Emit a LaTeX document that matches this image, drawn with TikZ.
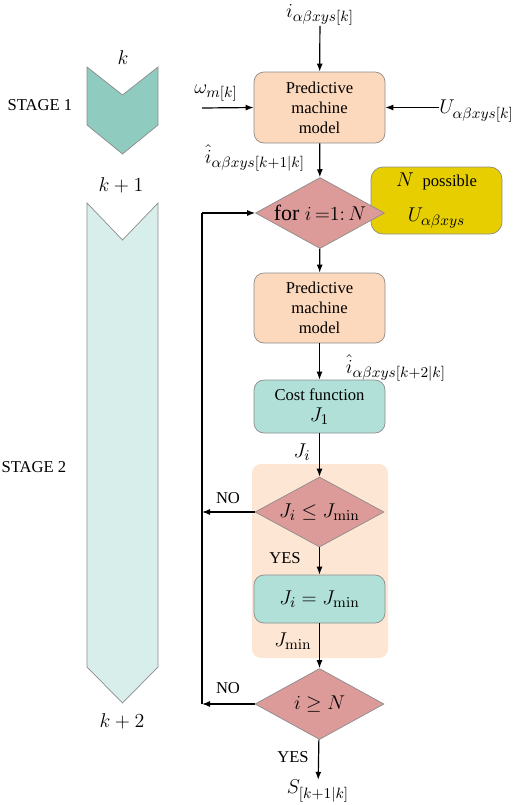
\documentclass[tikz,border=0pt]{standalone}
\usepackage{amsmath}
\usepackage[no-math]{fontspec}
\setmainfont{Liberation Serif}
\usetikzlibrary{shapes.geometric,arrows.meta}
\definecolor{peach}{HTML}{FCD8BC}
\definecolor{peachbg}{HTML}{FDE6D3}
\definecolor{tealbox}{HTML}{B0E0D8}
\definecolor{rose}{HTML}{DC9B98}
\definecolor{goldy}{HTML}{E6CE00}
\definecolor{chevA}{HTML}{8FCBBF}
\definecolor{chevB}{HTML}{D8EEEB}
\definecolor{edgegray}{HTML}{8C8C8C}
\newcommand{\bigmfont}{\fontsize{13.2}{16}\selectfont}
\newcommand{\mth}[1]{{\bigmfont$#1$}}
\tikzset{
  every node/.style={font=\normalsize, inner sep=0pt},
  mlab/.style={font=\bigmfont},
  rbox/.style={draw=edgegray, line width=0.42bp, rounded corners=6bp, minimum width=78.6bp, align=center},
  dmd/.style={diamond, draw=edgegray, line width=0.42bp, fill=rose, aspect=1.8, minimum width=77.4bp, minimum height=42.6bp, font=\bigmfont},
  conn/.style={line width=0.72bp, -{Latex[length=4.8bp,width=3.6bp]}},
  plain/.style={line width=0.72bp},
  chev/.style={draw=edgegray, line width=0.42bp}
}
\begin{document}
\begin{tikzpicture}[x=0.6bp,y=-0.6bp]
\useasboundingbox (0,0) rectangle (526,805);
% left chevrons
\draw[chev, fill=chevA] (87,67) -- (122.5,95) -- (158,67) -- (158,125) -- (122.5,154) -- (87,125) -- cycle;
\draw[chev, fill=chevB] (87,203) -- (122.5,240) -- (158,203) -- (158,667) -- (122.5,703) -- (87,667) -- cycle;
\node[mlab] (tk) at (123,58) {$k$};
\node[mlab] (tk1) at (121,185) {$k+1$};
\node[mlab] (tk2) at (122,721) {$k+2$};
\node (st1) at (40,105) {STAGE 1};
\node (st2) at (34,467) {STAGE 2};
% background
\node[fill=peachbg, rounded corners=5.4bp, minimum width=81.6bp, minimum height=116.4bp] (bg) at (320,561) {};
% top
\node[mlab] (iin) at (320,15) {$i_{\alpha\beta xys[k]}$};
\node[rbox, fill=peach, minimum height=42.6bp] (pm1) at (319.5,107.5) {Predictive\\machine\\model};
\node[mlab] (om) at (216,93) {$\omega_{m[k]}$};
\coordinate (omst) at (202,108);
\node[mlab, anchor=west] (uin) at (439,111) {$U_{\alpha\beta xys[k]}$};
\draw[conn] (iin) -- (pm1);
\draw[conn] (omst) -- (pm1.west);
\draw[conn] (uin.west |- pm1.east) -- (pm1.east);
\node[mlab] (ih1) at (255,158) {$\hat{i}_{\alpha\beta xys[k+1|k]}$};
% yellow box and first diamond
\node[rbox, fill=goldy, minimum width=78.6bp, minimum height=40.2bp, rounded corners=7.2bp] (yb) at (436.5,200.5) {\mth{N}\; possible\\[9pt]\mth{U_{\alpha\beta xys}}};
\node[dmd] (d1) at (320,213) {for $i\,{=}1{:}\,N$};
\draw[conn] (pm1) -- (d1);
\node[rbox, fill=peach, minimum height=42bp] (pm2) at (319.5,308) {Predictive\\machine\\model};
\draw[conn] (d1) -- (pm2);
\node[mlab] (ih2) at (396,368) {$\hat{i}_{\alpha\beta xys[k+2|k]}$};
\node[rbox, fill=tealbox, minimum height=31.8bp] (cf) at (319.5,406.5) {Cost function\\[1pt]\mth{J_1}};
\draw[conn] (pm2) -- (cf);
\node[mlab] (ji) at (302,452) {$J_i$};
\node[dmd, minimum height=42bp] (d2) at (319.5,512) {$J_i \le J_{\min}$};
\draw[conn] (cf) -- (d2);
\node (no1) at (228,498) {NO};
\node (yes1) at (285,558) {YES};
\node[rbox, fill=tealbox, minimum height=28.8bp, font=\bigmfont] (jm) at (319.5,599) {$J_i = J_{\min}$};
\draw[conn] (d2) -- (jm);
\node[mlab] (jmin) at (293,641) {$J_{\min}$};
\node[dmd] (d3) at (319.5,704) {$i \ge N$};
\draw[conn] (jm) -- (d3);
\node (no2) at (228,688) {NO};
\node (yes2) at (293,757) {YES};
\node[mlab] (sout) at (318,791) {$S_{[k+1|k]}$};
\draw[conn] (d3) -- (sout);
% loop
\coordinate (lp1) at (202,213);
\coordinate (lp2) at (202,512);
\coordinate (lp3) at (202,704);
\draw[conn] (d2.west) -- (lp2);
\draw[conn] (d3.west) -- (lp3);
\draw[plain] (lp3) -- (lp1);
\draw[conn] (lp1) -- (d1.west);
\end{tikzpicture}
\end{document}
